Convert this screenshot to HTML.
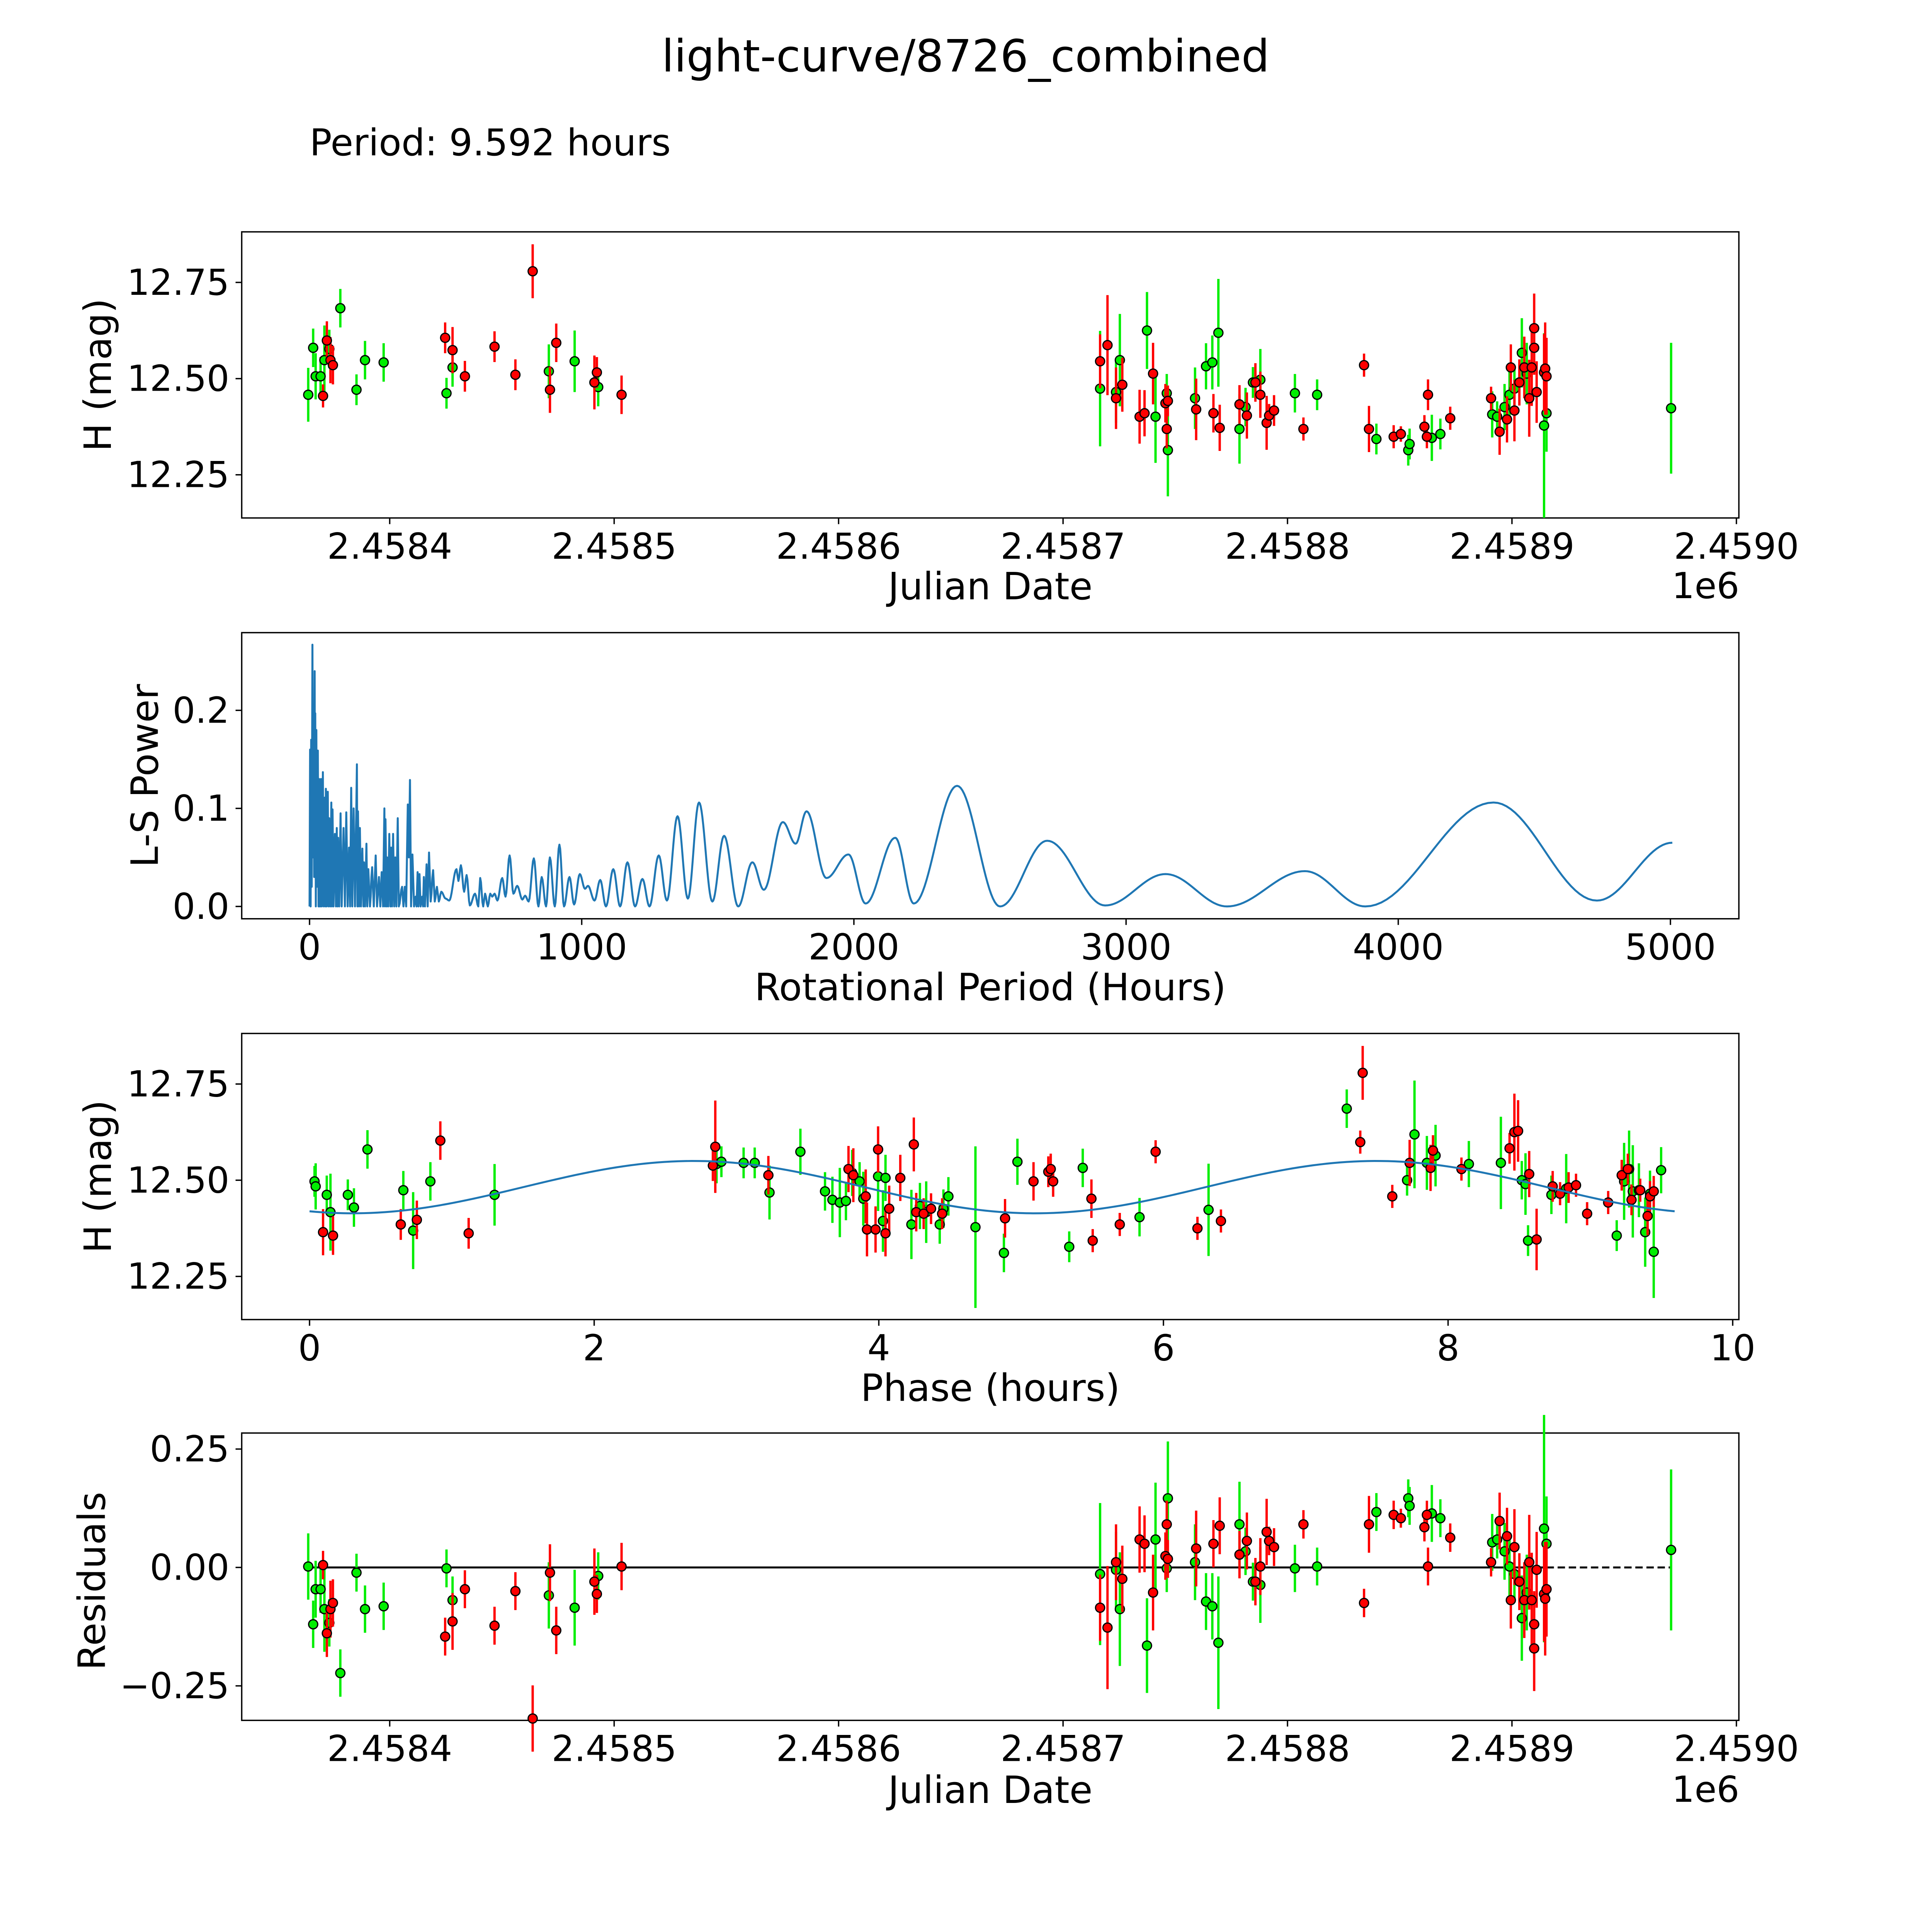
<!DOCTYPE html>
<html><head><meta charset="utf-8"><style>
html,body{margin:0;padding:0;background:#fff;overflow:hidden;width:100vw;height:100vh}
svg{display:block;position:fixed;left:0;top:0;width:100vw;height:100vh}
text{font-family:"DejaVu Sans","Liberation Sans",sans-serif;fill:#000}
</style></head><body>
<svg id="fig" xmlns="http://www.w3.org/2000/svg" viewBox="0 0 1566.6 1566.6" preserveAspectRatio="none">
<rect x="0" y="0" width="1566.6" height="1566.6" fill="#fff"/>
<text x="783" y="58" font-size="36" text-anchor="middle">light-curve/8726_combined</text>
<text x="251" y="126" font-size="30">Period: 9.592 hours</text>
<g id="g1"></g>
<g id="g2"></g>
<g id="g3"></g>
<g id="g4"></g>
</svg>
<script>
// ---- light curve data (JD - 2458000, H mag, error) ----
const greenJD=[363.7,365.9,367.0,369.2,370.9,373.1,378.0,385.2,389.0,397.3,425.3,428.0,470.9,482.4,492.9,716.5,723.6,725.3,737.4,741.2,746.2,746.7,758.8,763.7,766.5,769.2,778.6,781.3,784.6,787.9,803.3,813.2,839.6,853.8,854.4,864.3,868.1,891.2,893.4,896.7,898.9,901.1,904.4,906.6,914.3,915.4,970.9];
const greenMag=[12.458,12.580,12.506,12.506,12.548,12.577,12.683,12.471,12.548,12.542,12.462,12.529,12.519,12.545,12.478,12.474,12.465,12.548,12.625,12.401,12.462,12.314,12.449,12.532,12.542,12.619,12.369,12.426,12.490,12.497,12.462,12.458,12.343,12.314,12.330,12.346,12.356,12.407,12.401,12.426,12.458,12.474,12.567,12.513,12.378,12.410,12.423];
const greenErr=[0.07,0.05,0.06,0.05,0.09,0.05,0.05,0.04,0.05,0.05,0.04,0.05,0.07,0.08,0.05,0.15,0.08,0.12,0.1,0.12,0.05,0.12,0.08,0.06,0.07,0.14,0.09,0.05,0.04,0.08,0.05,0.04,0.04,0.04,0.04,0.06,0.04,0.06,0.04,0.06,0.07,0.06,0.09,0.08,0.24,0.1,0.17];
const redJD=[370.3,372.0,373.6,374.7,424.7,428.0,433.5,446.7,456.0,463.7,471.4,474.2,491.2,492.3,503.3,716.5,719.8,723.6,726.4,734.1,736.3,740.1,745.6,746.2,746.7,759.3,767.0,769.8,778.6,781.9,785.7,787.9,790.7,791.8,794.0,807.1,834.1,836.3,847.3,850.5,861.0,862.1,862.6,872.5,890.7,894.5,897.8,899.5,901.1,903.3,905.5,907.7,908.8,909.9,909.9,911.0,914.3,914.8,915.4];
const redMag=[12.455,12.599,12.548,12.535,12.606,12.574,12.506,12.583,12.510,12.779,12.471,12.593,12.490,12.516,12.458,12.545,12.587,12.449,12.484,12.401,12.410,12.513,12.436,12.369,12.442,12.420,12.410,12.372,12.433,12.404,12.490,12.458,12.385,12.404,12.417,12.369,12.535,12.369,12.349,12.356,12.375,12.349,12.458,12.397,12.449,12.362,12.394,12.529,12.417,12.490,12.529,12.449,12.529,12.580,12.631,12.465,12.516,12.526,12.506];
const redErr=[0.03,0.05,0.06,0.05,0.04,0.06,0.04,0.04,0.04,0.07,0.06,0.05,0.07,0.04,0.05,0.07,0.13,0.08,0.07,0.07,0.06,0.08,0.05,0.05,0.04,0.08,0.05,0.06,0.05,0.06,0.05,0.06,0.07,0.03,0.04,0.03,0.03,0.06,0.03,0.02,0.03,0.03,0.04,0.03,0.03,0.06,0.06,0.06,0.08,0.06,0.08,0.1,0.1,0.07,0.09,0.08,0.1,0.12,0.1];
const residZero=12.46;
// ---- periodogram data ----
const lsPeriod=[0,2,4,6,8,10.6,13,15,17,18.8,20,21,23,25,27,30.5,33,35,36,37.6,40,42,45,49,52,56,58,60,63,67,70,72,76,80,82,84.5,88,93,97,100,103,105,109,114,118,125,130,135,140,145,149,153,157,162,167,174,176,178,182,185,189,194,198,200,204,209,212,216,222,230,236,243,248,255,260,265,270,275,277,279,283,285,289,293,297,300,303,307,311,315,319,324,328,340,345,350,355,361,365,369,373,378,384,390,393,397,400,404,408,414,417,420,424,430,434,439,445,454,460,468,475,484,500,513,540,547,556,568,577,589,608,620,627,638,645,655,664,671,680,690,708,720,735,749,763,782,792,805,824,841,853,869,883,901,918,935,955,972,993,1012,1023,1047,1068,1089,1116,1141,1168,1196,1223,1249,1283,1313,1352,1390,1431,1480,1523,1575,1627,1669,1739,1786,1826,1899,1980,2043,2152,2220,2379,2537,2710,2923,3145,3371,3657,3879,4350,4730,5007];
const lsPower=[0,0.16,0,0.17,0.02,0.267,0.05,0.2,0.03,0.24,0.05,0.197,0,0.18,0.02,0.159,0,0.13,0,0.123,0,0.13,0,0.137,0,0.111,0,0.12,0,0.117,0,0.09,0,0.106,0,0.099,0,0.074,0,0.08,0,0.07,0,0.095,0,0.08,0,0.096,0,0.06,0,0.121,0,0.1,0,0.145,0,0.097,0,0.08,0,0.059,0,0.045,0,0.064,0,0.038,0,0.04,0,0.052,0,0.03,0,0.035,0,0.1,0,0.089,0,0.05,0,0.074,0,0.06,0,0.074,0,0.05,0,0.09,0,0.02,0,0.02,0,0.104,0.05,0.129,0,0.053,0,0.01,0,0.035,0,0.033,0,0.01,0,0.03,0,0.043,0,0.055,0.005,0.037,0.005,0.02,0.005,0.015,0.008,0.006,0.038,0.026,0.042,0.015,0.032,0.001,0.013,0,0.029,0,0.013,0,0.013,0.01,0.013,0.006,0.029,0.01,0.052,0.013,0.021,0.007,0.011,0.005,0.049,0,0.03,0,0.05,0,0.063,0,0.03,0.002,0.033,0.018,0.021,0.006,0.027,0,0.038,0,0.045,0,0.028,0,0.052,0.006,0.092,0.008,0.106,0.005,0.072,0,0.045,0.017,0.086,0.064,0.097,0.029,0.053,0.003,0.07,0.003,0.123,0,0.067,0.001,0.033,0,0.036,0,0.106,0.006,0.065];
// ---- phase-folded data ----
const greenPhase=[0.035,0.043,0.121,0.147,0.269,0.312,0.407,0.659,0.728,0.849,1.300,2.860,2.894,3.050,3.128,3.232,3.449,3.622,3.674,3.726,3.769,3.813,3.865,3.891,3.995,4.029,4.047,4.229,4.289,4.333,4.428,4.454,4.489,4.679,4.879,4.974,5.338,5.433,5.832,6.317,7.288,7.712,7.764,7.851,7.912,8.146,8.371,8.518,8.544,8.562,8.726,8.830,9.185,9.237,9.272,9.298,9.341,9.385,9.419,9.445,9.497];
const greenPhaseMag=[12.497,12.484,12.462,12.417,12.462,12.429,12.580,12.474,12.369,12.497,12.462,12.542,12.548,12.545,12.545,12.468,12.574,12.471,12.449,12.442,12.446,12.519,12.497,12.452,12.510,12.394,12.506,12.385,12.433,12.417,12.385,12.426,12.458,12.378,12.311,12.548,12.327,12.532,12.404,12.423,12.686,12.500,12.619,12.545,12.564,12.542,12.545,12.500,12.490,12.343,12.462,12.478,12.356,12.497,12.529,12.471,12.474,12.365,12.465,12.314,12.526];
const greenPhaseErr=[0.04,0.06,0.05,0.1,0.04,0.05,0.05,0.05,0.1,0.05,0.08,0.05,0.04,0.04,0.04,0.07,0.06,0.05,0.06,0.09,0.05,0.06,0.05,0.07,0.09,0.08,0.06,0.09,0.06,0.08,0.05,0.05,0.05,0.21,0.05,0.06,0.04,0.05,0.05,0.12,0.05,0.04,0.14,0.07,0.08,0.06,0.12,0.05,0.08,0.04,0.05,0.09,0.04,0.1,0.1,0.12,0.07,0.09,0.06,0.12,0.06];
const redPhase=[0.095,0.165,0.641,0.754,0.919,1.118,2.834,2.851,3.224,3.787,3.821,3.908,3.917,3.977,3.995,4.047,4.073,4.151,4.246,4.263,4.315,4.367,4.445,4.887,5.087,5.191,5.208,5.225,5.494,5.503,5.693,5.945,6.239,6.404,7.383,7.400,7.608,7.730,7.877,7.894,8.094,8.432,8.466,8.492,8.570,8.622,8.735,8.787,8.847,8.899,8.977,9.125,9.220,9.263,9.289,9.350,9.402,9.419,9.445];
const redPhaseMag=[12.365,12.356,12.385,12.397,12.603,12.362,12.538,12.587,12.513,12.529,12.513,12.458,12.372,12.372,12.580,12.362,12.426,12.506,12.593,12.417,12.413,12.426,12.413,12.401,12.497,12.522,12.529,12.497,12.452,12.343,12.385,12.574,12.375,12.394,12.599,12.779,12.458,12.545,12.532,12.577,12.529,12.583,12.625,12.628,12.516,12.346,12.484,12.465,12.481,12.487,12.413,12.442,12.513,12.529,12.449,12.474,12.407,12.458,12.471];
const redPhaseErr=[0.06,0.05,0.04,0.05,0.05,0.04,0.04,0.12,0.05,0.06,0.07,0.07,0.07,0.06,0.06,0.06,0.06,0.06,0.07,0.05,0.04,0.04,0.04,0.05,0.05,0.04,0.04,0.04,0.05,0.03,0.03,0.03,0.03,0.03,0.03,0.07,0.03,0.06,0.06,0.04,0.03,0.04,0.1,0.08,0.06,0.08,0.04,0.03,0.04,0.03,0.03,0.03,0.04,0.04,0.04,0.03,0.05,0.04,0.04];
// model: mean, amplitude, phase of maximum, harmonic period (hours), full period (hours)
const modelParams=[12.482,0.068,2.7,4.796,9.592];

const NS='http://www.w3.org/2000/svg';
function mk(parent,tag,attrs){const e=document.createElementNS(NS,tag);for(const k in attrs)e.setAttribute(k,attrs[k]);parent.appendChild(e);return e;}
const L=196,R=1410,W=R-L;
const GREEN='#00ee00',RED='#ff0000';
const TICK=29,LAB=30.5;

function frame(g,top,bot,name){
  const r=mk(g,'rect',{x:L,y:top,width:W,height:bot-top,fill:'none',stroke:'#000','stroke-width':1.1});
  
  
}
function xtick(g,x,bot,label){
  mk(g,'line',{x1:x,y1:bot,x2:x,y2:bot+5,stroke:'#000','stroke-width':1.1});
  const t=mk(g,'text',{x:x,y:bot+33,'font-size':TICK,'text-anchor':'middle'});t.textContent=label;
  
  
}
function ytick(g,y,label){
  mk(g,'line',{x1:L-5,y1:y,x2:L,y2:y,stroke:'#000','stroke-width':1.1});
  const t=mk(g,'text',{x:L-10,y:y+10,'font-size':TICK,'text-anchor':'end'});t.textContent=label;
  
  
}
function xlabel(g,y,s){const t=mk(g,'text',{x:803,y:y,'font-size':LAB,'text-anchor':'middle'});t.textContent=s;
  
  }
function ylabel(g,x,y,s){const t=mk(g,'text',{x:x,y:y,'font-size':LAB,'text-anchor':'middle',transform:`rotate(-90 ${x} ${y})`});t.textContent=s;
  
  }
function points(g,xs,ys,es,xf,yf,col,eScale){
  for(let i=0;i<xs.length;i++){
    const x=xf(xs[i]),y=yf(ys[i]),e=es[i]*eScale;
    const l=mk(g,'line',{x1:x,y1:y-e,x2:x,y2:y+e,stroke:col,'stroke-width':1.9});
    
    
  }
  for(let i=0;i<xs.length;i++){
    const c=mk(g,'circle',{cx:xf(xs[i]),cy:yf(ys[i]),r:3.7,fill:col,stroke:'#000','stroke-width':1});
    
    
  }
}
// Panel 1
(function(){
  const g=document.getElementById('g1');const top=188,bot=420;
  const xf=d=>316+(d-400)*1.82, yf=m=>307-(m-12.5)*312;
  frame(g,top,bot,'light-curve-axes');
  ['2.4584','2.4585','2.4586','2.4587','2.4588','2.4589','2.4590'].forEach((s,k)=>xtick(g,xf(400+100*k),bot,s));
  [['12.25',12.25],['12.50',12.5],['12.75',12.75]].forEach(a=>ytick(g,yf(a[1]),a[0]));
  const o=mk(g,'text',{x:1383,y:485,'font-size':TICK,'text-anchor':'middle'});o.textContent='1e6';
  
  
  xlabel(g,486,'Julian Date');ylabel(g,90,304,'H (mag)');
  const s=312;
  points(g,greenJD,greenMag,greenErr,xf,yf,GREEN,s);
  points(g,redJD,redMag,redErr,xf,yf,RED,s);
})();
// Panel 2
(function(){
  const g=document.getElementById('g2');const top=513,bot=745;
  const xf=p=>251+p*0.2207, yf=v=>735-v*795;
  frame(g,top,bot,'periodogram-axes');
  [0,1000,2000,3000,4000,5000].forEach(v=>xtick(g,xf(v),bot,String(v)));
  [['0.0',0],['0.1',0.1],['0.2',0.2]].forEach(a=>ytick(g,yf(a[1]),a[0]));
  xlabel(g,811,'Rotational Period (Hours)');ylabel(g,128,629,'L-S Power');
  let d='M'+xf(lsPeriod[0]).toFixed(2)+' '+yf(lsPower[0]).toFixed(2);
  for(let i=0;i<lsPeriod.length-1;i++){
    const p0=lsPeriod[i],p1=lsPeriod[i+1],v0=lsPower[i],v1=lsPower[i+1];
    const n=Math.max(2,Math.min(24,Math.round((xf(p1)-xf(p0))*1.5)));
    for(let j=1;j<=n;j++){const t=j/n;const p=p0+(p1-p0)*t;const v=v0+(v1-v0)*(1-Math.cos(Math.PI*t))/2;
      d+=' L'+xf(p).toFixed(2)+' '+yf(v).toFixed(2);}
  }
  const path=mk(g,'path',{d:d,fill:'none',stroke:'#1f77b4','stroke-width':1.6,'stroke-linejoin':'round'});
  
  
})();
// Panel 3
(function(){
  const g=document.getElementById('g3');const top=838,bot=1070;
  const xf=p=>251+p*115.4, yf=m=>957-(m-12.5)*312;
  frame(g,top,bot,'phase-axes');
  [0,2,4,6,8,10].forEach(v=>xtick(g,xf(v),bot,String(v)));
  [['12.25',12.25],['12.50',12.5],['12.75',12.75]].forEach(a=>ytick(g,yf(a[1]),a[0]));
  xlabel(g,1136,'Phase (hours)');ylabel(g,90,954,'H (mag)');
  const s=312;
  points(g,greenPhase,greenPhaseMag,greenPhaseErr,xf,yf,GREEN,s);
  points(g,redPhase,redPhaseMag,redPhaseErr,xf,yf,RED,s);
  const [mu,amp,pk,hp,per]=modelParams;
  let d='';
  for(let i=0;i<=200;i++){const p=per*i/200;const m=mu+amp*Math.cos(2*Math.PI*(p-pk)/hp);
    d+=(i?' L':'M')+xf(p).toFixed(2)+' '+yf(m).toFixed(2);}
  const path=mk(g,'path',{d:d,fill:'none',stroke:'#1f77b4','stroke-width':1.6});
  
  
})();
// Panel 4
(function(){
  const g=document.getElementById('g4');const top=1162,bot=1395;
  const xf=d=>316+(d-400)*1.82, yf=r=>1271-r*384;
  frame(g,top,bot,'residuals-axes');
  ['2.4584','2.4585','2.4586','2.4587','2.4588','2.4589','2.4590'].forEach((s,k)=>xtick(g,xf(400+100*k),bot,s));
  [['\u22120.25',-0.25],['0.00',0],['0.25',0.25]].forEach(a=>ytick(g,yf(a[1]),a[0]));
  const o=mk(g,'text',{x:1383,y:1461,'font-size':TICK,'text-anchor':'middle'});o.textContent='1e6';
  
  
  xlabel(g,1462,'Julian Date');ylabel(g,85,1282,'Residuals');
  const all=greenJD.concat(redJD);const x0=Math.min(...all),x1=Math.max(...redJD),x2=Math.max(...all);
  const z1=mk(g,'line',{x1:xf(x0),y1:yf(0),x2:xf(x1),y2:yf(0),stroke:'#000','stroke-width':1.6});
  
  
  const z2=mk(g,'line',{x1:xf(x1),y1:yf(0),x2:xf(x2),y2:yf(0),stroke:'#000','stroke-width':1.6,'stroke-dasharray':'6,3'});
  
  
  const gr=greenMag.map(m=>residZero-m), rr=redMag.map(m=>residZero-m);
  points(g,greenJD,gr,greenErr,xf,yf,GREEN,384);
  points(g,redJD,rr,redErr,xf,yf,RED,384);
})();
</script>
</body></html>
